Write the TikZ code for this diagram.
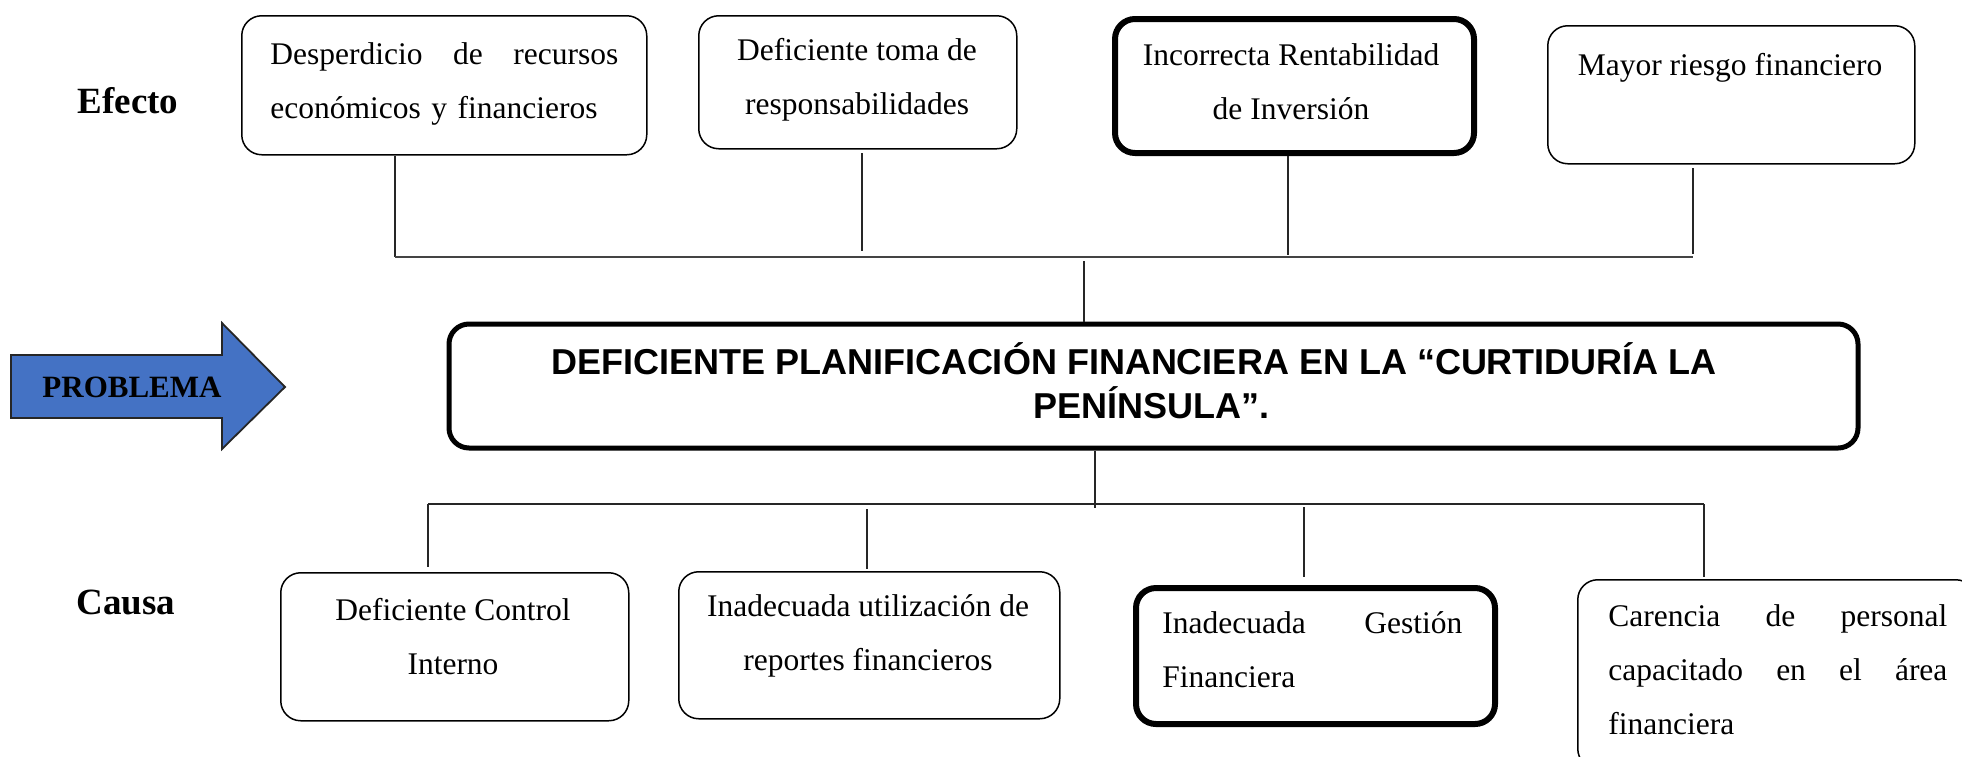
\documentclass[tikz,border=0pt]{standalone}
\usepackage{fontspec}
\setmainfont{Liberation Serif}
\newfontfamily\arialf{Liberation Sans}
\definecolor{arrowblue}{HTML}{4472C4}
\definecolor{linegray}{HTML}{444444}
\begin{document}
\begin{tikzpicture}[x=0.5pt,y=-0.5pt,
  box/.style={draw=black, rounded corners=10pt, line width=0.75pt, inner sep=0pt, anchor=north west},
  thickbox/.style={box, line width=3pt},
  mainbox/.style={box, line width=2.5pt},
  txt/.style={inner sep=0pt, font=\fontsize{15.75}{27}\selectfont},
  lbl/.style={inner sep=0pt, font=\fontsize{18.5}{22}\selectfont\bfseries, anchor=base},
  conn/.style={draw=black!85, line width=0.6pt},
  bus/.style={draw=linegray, line width=1.2pt}
]
\clip (0,0) rectangle (1962,756);
\useasboundingbox (0,0) rectangle (1962,756);

% labels
\node[lbl] (efecto) at (128,113) {Efecto};
\node[lbl] (causa) at (126,614) {Causa};

% effect boxes
\node[box, minimum width=202.5pt, minimum height=69.5pt] (e1) at (241,15) {};
\node[box, minimum width=159pt, minimum height=66.5pt] (e2) at (698,15) {};
\node[thickbox, minimum width=179.5pt, minimum height=67pt] (e3) at (1112,16) {};
\node[box, minimum width=183.5pt, minimum height=69pt] (e4) at (1547,25) {};

\node[txt, anchor=base west, text width=174pt, align=left] (t1) at (270,64)
  {Desperdicio\hfill de\hfill recursos\\económicos y financieros};
\node[txt, anchor=base, align=center] (t2) at (857,114) {Deficiente toma de\\responsabilidades};
\node[txt, anchor=base, align=center] (t3) at (1291,119) {Incorrecta Rentabilidad\\de Inversión};
\node[txt, anchor=base, align=center] (t4) at (1730,75) {Mayor riesgo financiero};

% main problem box
\node[mainbox, minimum width=704.5pt, minimum height=62pt] (main) at (446.5,321.5) {};
\node[inner sep=0pt, anchor=base, align=center, font=\fontsize{18}{22}\selectfont\arialf\bfseries] (title) at (1151,418)
  {DEFICIENTE PLANIFICACIÓN FINANCIERA EN LA “CURTIDURÍA LA\hspace*{17pt}\\PENÍNSULA”.};

% problem arrow
\draw[fill=arrowblue, draw=black!85, line width=0.9pt, line join=miter]
  (11,355) -- (222,355) -- (222,323) -- (285,387) -- (222,449) -- (222,418) -- (11,418) -- cycle;
\node[inner sep=0pt, anchor=base, font=\fontsize{15.5}{18}\selectfont\bfseries] (prob) at (132,397) {PROBLEMA};

% cause boxes
\node[box, minimum width=174pt, minimum height=74pt] (c1) at (280,572) {};
\node[box, minimum width=190.5pt, minimum height=73.5pt] (c2) at (678,571) {};
\node[thickbox, minimum width=179.5pt, minimum height=68pt] (c3) at (1133,585) {};
\node[box, minimum width=199pt, minimum height=94.5pt] (c4) at (1577,579) {};

\node[txt, anchor=base, align=center] (d1) at (453,674) {Deficiente Control\\Interno};
\node[txt, anchor=base, align=center] (d2) at (868,670) {Inadecuada utilización de\\reportes financieros};
\node[txt, anchor=base west, text width=150pt, align=left] (d3) at (1162,633)
  {Inadecuada\hfill Gestión\\Financiera};
\node[txt, anchor=base west, text width=169.5pt, align=left] (d4) at (1608,626)
  {Carencia\hfill de\hfill personal\\capacitado\hfill en\hfill el\hfill área\\financiera};

% effect connectors
\coordinate (e1a) at (395,156); \coordinate (e1b) at (395,257);
\coordinate (e2a) at (862,153); \coordinate (e2b) at (862,251);
\coordinate (e3a) at (1288,156); \coordinate (e3b) at (1288,255);
\coordinate (e4a) at (1693,168); \coordinate (e4b) at (1693,254);
\coordinate (mta) at (1084,261); \coordinate (mtb) at (main.north -| mta);
\draw[conn] (e1a) -- (e1b);
\draw[conn] (e2a) -- (e2b);
\draw[conn] (e3a) -- (e3b);
\draw[conn] (e4a) -- (e4b);
\draw[bus] (e1b) -- (e4b |- e1b);
\draw[conn] (mta) -- (mtb);

% cause connectors
\coordinate (mba) at (main.south -| 1095,0); \coordinate (mbb) at (1095,508);
\coordinate (bL) at (428,504); \coordinate (bR) at (1704,504);
\coordinate (c1a) at (428,504); \coordinate (c1b) at (428,567);
\coordinate (c2a) at (867,509); \coordinate (c2b) at (867,569);
\coordinate (c3a) at (1304,507); \coordinate (c3b) at (1304,577);
\coordinate (c4a) at (1704,504); \coordinate (c4b) at (1704,577);
\draw[conn] (mba) -- (mbb);
\draw[conn] (bL) -- (bR);
\draw[conn] (c1a) -- (c1b);
\draw[conn] (c2a) -- (c2b);
\draw[conn] (c3a) -- (c3b);
\draw[conn] (c4a) -- (c4b);
\end{tikzpicture}
\end{document}
